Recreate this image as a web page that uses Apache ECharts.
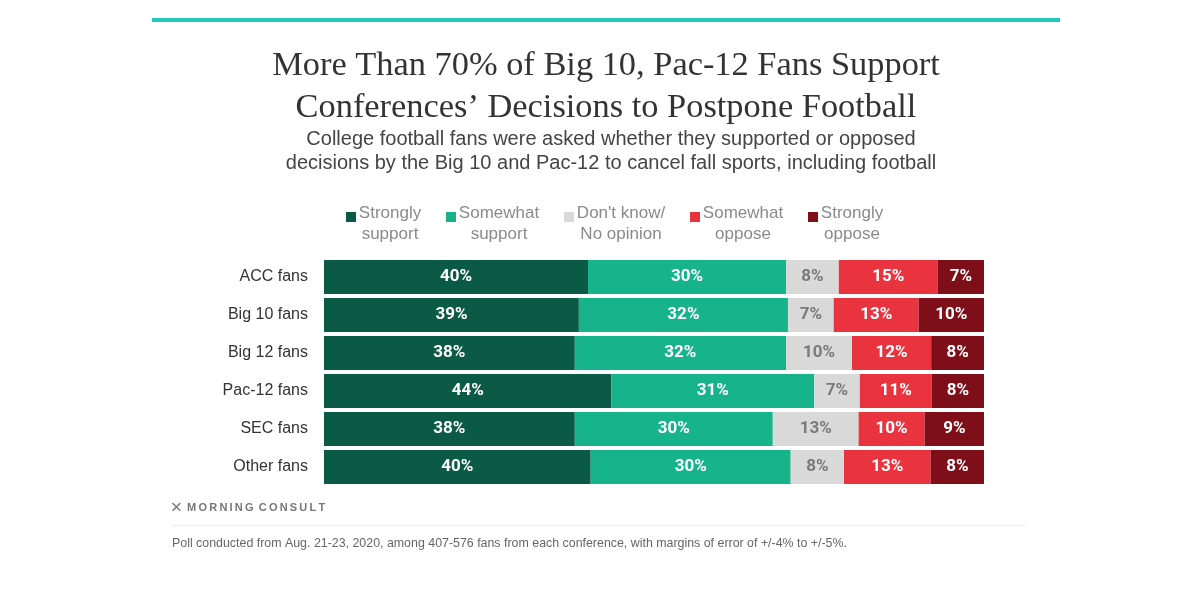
<!DOCTYPE html>
<html><head><meta charset="utf-8">
<script src="https://cdn.jsdelivr.net/npm/echarts@6/dist/echarts.min.js"></script>
<style>html,body{margin:0;padding:0;background:#fff}#c{width:1200px;height:599px}</style>
</head><body><div id="c"></div>
<script>
const categories = ['ACC fans','Big 10 fans','Big 12 fans','Pac-12 fans','SEC fans','Other fans'];
const seriesNames = ['Strongly\nsupport','Somewhat\nsupport',"Don't know/\nNo opinion",'Somewhat\noppose','Strongly\noppose'];
const stronglySupport = [40,39,38,44,38,40];
const somewhatSupport = [30,32,32,31,30,30];
const dontKnow = [8,7,10,7,13,8];
const somewhatOppose = [15,13,12,11,10,13];
const stronglyOppose = [7,10,8,8,9,8];
const colors = ['#0b5a45','#17b38b','#d9d9d9','#e9343f','#7e0e17'];
const labelColors = ['#fff','#fff','#7a7a7a','#fff','#fff'];
const legendWidths = [66,84,92,84,66];

const raw = [stronglySupport, somewhatSupport, dontKnow, somewhatOppose, stronglyOppose];
const totals = categories.map((c,i)=>raw.reduce((s,a)=>s+a[i],0));

const chart = echarts.init(document.getElementById('c'));
const series = raw.map((arr,k)=>({
  name: seriesNames[k], type:'bar', stack:'all', barCategoryGap:'10.5%',
  itemStyle:{color:colors[k]},
  data: arr.map((v,i)=>({value: v/totals[i]*100, raw:v})),
  label:{show:true, position:'inside', color:labelColors[k], fontFamily:'Roboto', fontWeight:'bold', fontSize:17,
    formatter:p=>p.data.raw+'%'}
}));
const rich = {};
legendWidths.forEach((w,k)=>{ rich['w'+k] = {width:w, align:'center', fontFamily:'Liberation Sans', fontSize:17, color:'#8a8a8a', lineHeight:21}; });
chart.setOption({
  animation:false,
  title:[
    {text:'More Than 70% of Big 10, Pac-12 Fans Support\nConferences\u2019 Decisions to Postpone Football', left:601, top:40, textAlign:'center',
     textStyle:{fontFamily:'Liberation Serif', fontSize:34.4, fontWeight:'normal', color:'#333', lineHeight:42}},
    {text:'College football fans were asked whether they supported or opposed\ndecisions by the Big 10 and Pac-12 to cancel fall sports, including football', left:606, top:122, textAlign:'center',
     textStyle:{fontFamily:'Liberation Sans', fontSize:20, fontWeight:'normal', color:'#444', lineHeight:24}}
  ],
  legend:{top:198, left:341, itemGap:23, itemWidth:10, itemHeight:24,
    icon:'path://M0,0h10v10h-10zM0,23.99h0.01v0.01h-0.01z',
    data:seriesNames,
    formatter:name=>{const k=seriesNames.indexOf(name); return name.split('\n').map(s=>'{w'+k+'|'+s+'}').join('\n');},
    textStyle:{fontFamily:'Liberation Sans', fontSize:17, color:'#8a8a8a', lineHeight:21, padding:[0,0,0,-4], rich:rich}},
  grid:{left:324, right:216, top:258, bottom:113, containLabel:false},
  xAxis:{type:'value', min:0, max:100, show:false},
  yAxis:{type:'category', data:categories, inverse:true, axisLine:{show:false}, axisTick:{show:false},
    axisLabel:{fontFamily:'Liberation Sans', fontSize:16, color:'#333', margin:16}},
  series:series,
  graphic:[
    {type:'rect', shape:{x:152,y:18,width:908,height:4}, style:{fill:'#23c9bd'}},
    {type:'text', left:172, top:502, style:{text:'\u2A09  M\u2009O\u2009R\u2009N\u2009I\u2009N\u2009G\u2009 C\u2009O\u2009N\u2009S\u2009U\u2009L\u2009T', font:'bold 11px "Liberation Sans"', fill:'#777'}},
    {type:'rect', shape:{x:172,y:525,width:854,height:1}, style:{fill:'#eeeeee'}},
    {type:'text', left:172, top:538, style:{text:'Poll conducted from Aug. 21-23, 2020, among 407-576 fans from each conference, with margins of error of +/-4% to +/-5%.', font:'12.4px "Liberation Sans"', fill:'#666'}}
  ]
});
</script></body></html>
